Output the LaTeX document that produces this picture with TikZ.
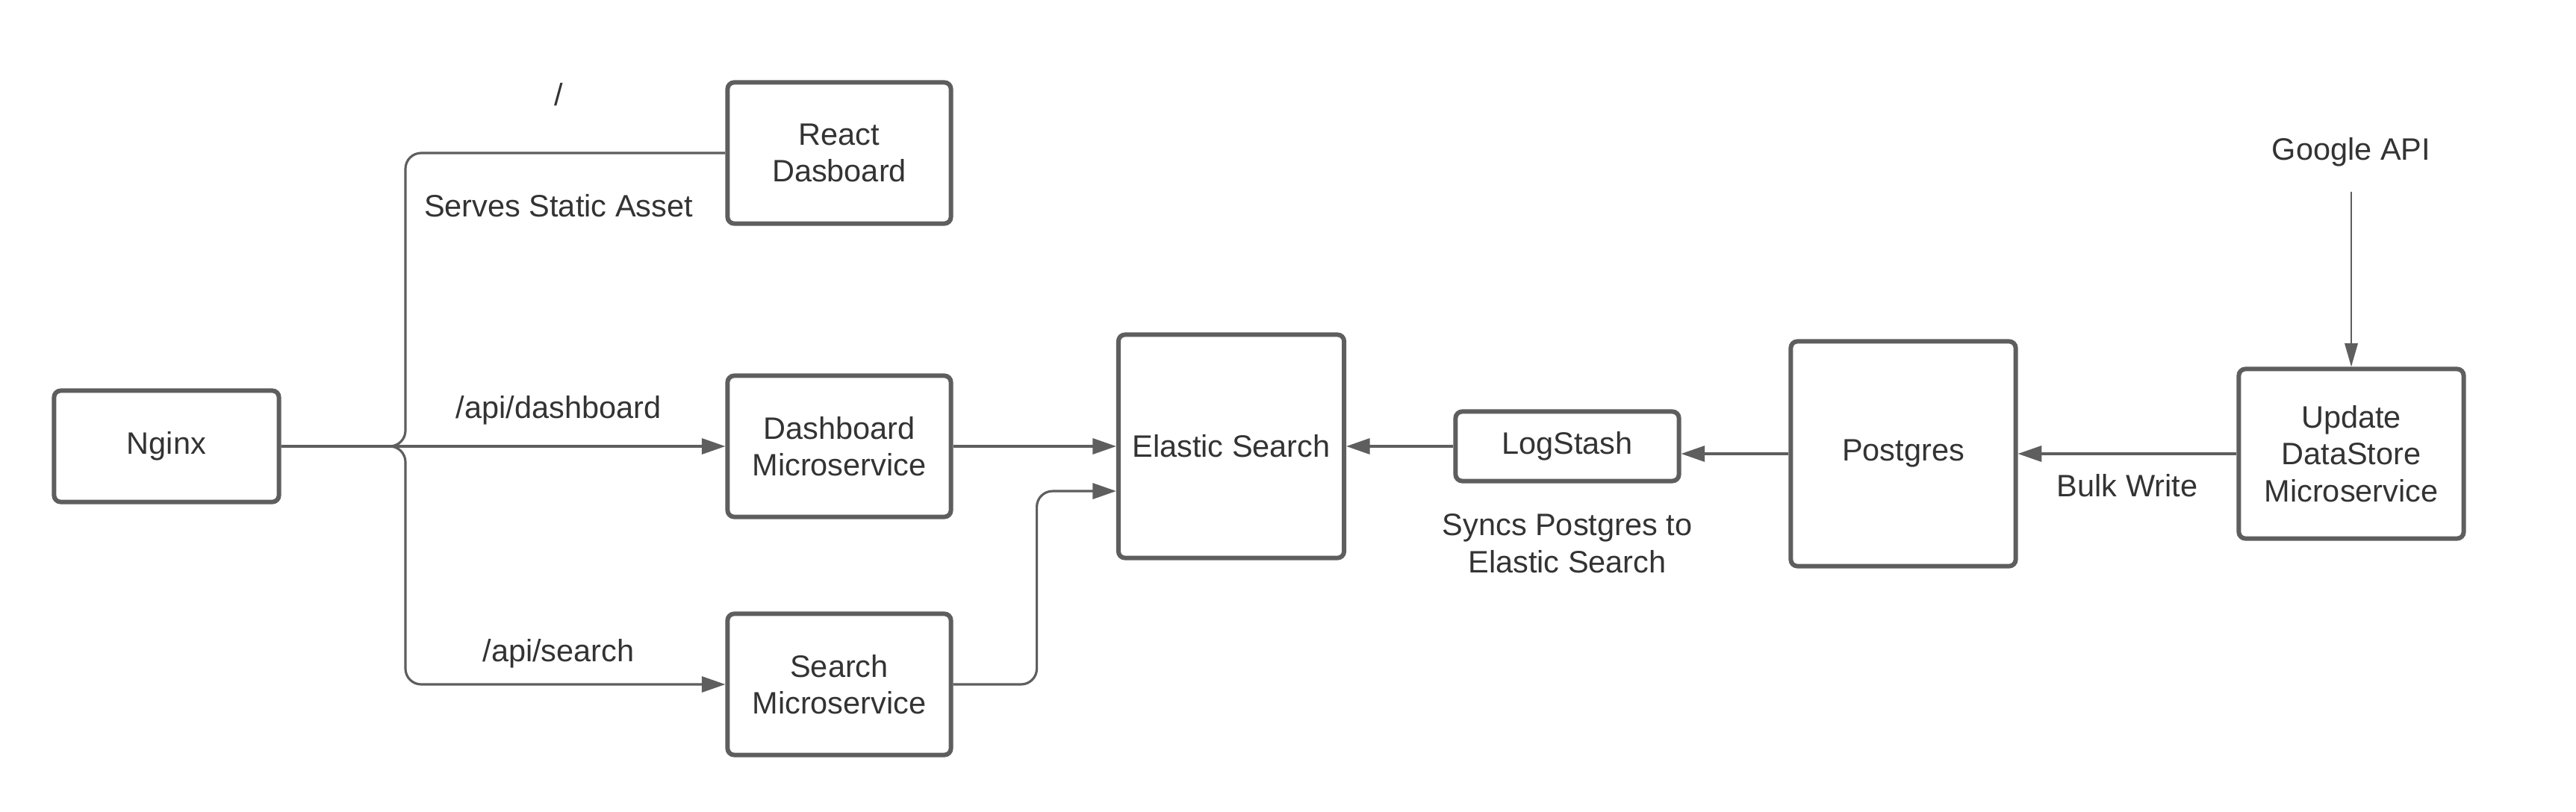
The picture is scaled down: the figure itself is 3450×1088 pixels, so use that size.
\documentclass[tikz,border=0pt]{standalone}
\usepackage{fontspec}
\setmainfont{Liberation Sans}
\usetikzlibrary{arrows.meta, positioning}
\definecolor{linegray}{HTML}{5E5E5E}
\definecolor{textgray}{HTML}{333333}

\begin{document}
\begin{tikzpicture}[x=0.01cm, y=-0.01cm,
  every node/.style={font=\fontsize{11.8}{14.1}\selectfont, text=textgray},
  box/.style={draw=linegray, line width=1.7pt, rounded corners=2.5pt, align=center, inner sep=0pt},
  lbl/.style={align=center},
  link/.style={draw=linegray, line width=0.9pt},
  arr/.style={link, -{Triangle[length=9pt, width=6pt]}},
  thinarr/.style={draw=linegray, line width=0.6pt, -{Triangle[length=9pt, width=5pt]}}]
\useasboundingbox (0,0) rectangle (3450,1088);

% boxes
\node[box, minimum width=3.01cm, minimum height=1.49cm] (nginx) at (223,598) {Nginx};
\node[box, minimum width=2.99cm, minimum height=1.89cm] (react) at (1124,205) {React\\Dasboard};
\node[box, minimum width=2.99cm, minimum height=1.89cm] (dash) at (1124,598) {Dashboard\\Microservice};
\node[box, minimum width=2.99cm, minimum height=1.89cm] (search) at (1124,917) {Search\\Microservice};
\node[box, minimum width=3.02cm, minimum height=2.99cm] (elastic) at (1649,598) {Elastic Search};
\node[box, minimum width=2.99cm, minimum height=0.93cm] (logstash) at (2099,598) {LogStash};
\node[box, minimum width=3.01cm, minimum height=3.01cm] (postgres) at (2549,608) {Postgres};
\node[box, minimum width=3.01cm, minimum height=2.27cm] (update) at (3149,608) {Update\\DataStore\\Microservice};

% labels
\node[lbl] (root) at (748,127) {/};
\node[lbl] (static) at (748,276) {Serves Static Asset};
\node[lbl] (apidash) at (748,550) {/api/dashboard};
\node[lbl] (apisearch) at (748,876) {/api/search};
\node[lbl] (sync) at (2099,728) {Syncs Postgres to\\Elastic Search};
\node[lbl] (bulk) at (2849,651) {Bulk Write};
\node[lbl] (google) at (3149,204) {Google API};

% routes out of nginx
\coordinate (split) at (543,598);
\draw[link, rounded corners=6pt] (nginx.east) -- (split) |- (react.west);
\draw[arr] (nginx.east) -- (dash.west);
\draw[arr, rounded corners=6pt] (nginx.east) -- (split) |- (search.west);

% into elastic search
\draw[arr] (dash.east) -- (elastic.west);
\draw[arr, rounded corners=6pt] (search.east) -- ++(112,0) |- ([yshift=-0.6cm]elastic.west);
\draw[arr] (logstash.west) -- (elastic.east);

% data sync
\draw[arr] (postgres.west) -- (postgres.west -| logstash.east);
\draw[arr] (update.west) -- (postgres.east);
\draw[thinarr, shorten <=6pt] (google.south) -- (update.north);
\end{tikzpicture}
\end{document}
